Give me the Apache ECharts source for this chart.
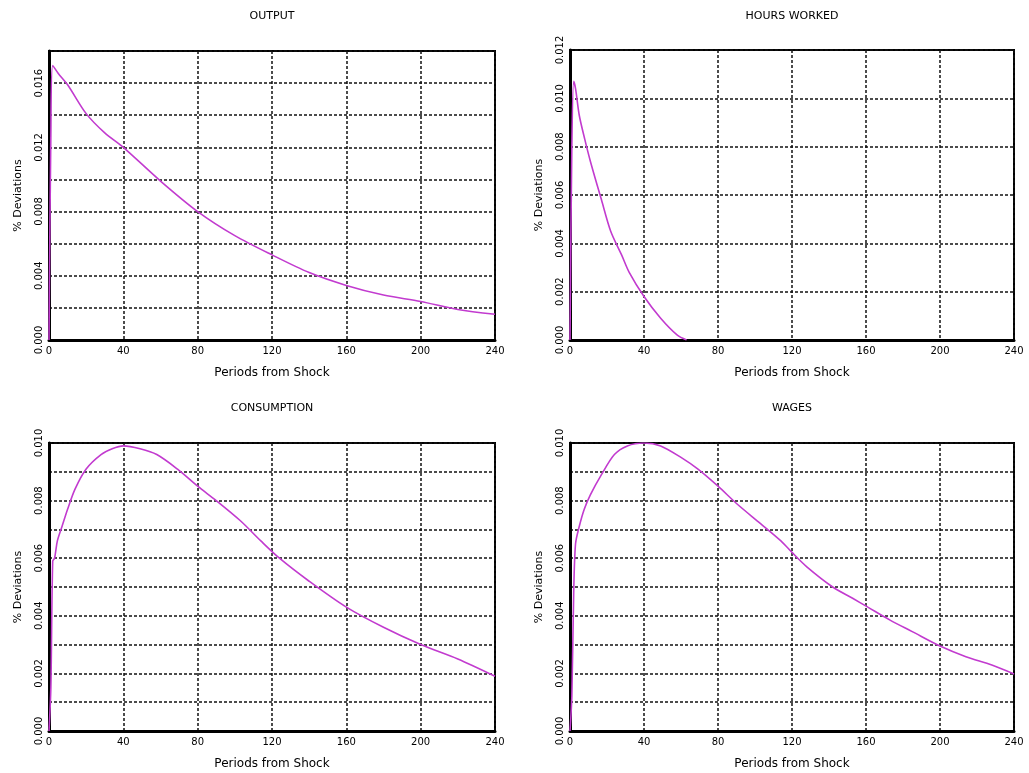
<!DOCTYPE html>
<html>
<head>
<meta charset="utf-8">
<script src="https://cdn.jsdelivr.net/npm/echarts@6/dist/echarts.min.js"></script>
<style>
  html, body { margin: 0; padding: 0; background: #fff; }
  #main { width: 1029px; height: 773px; }
</style>
</head>
<body>
<div id="main"></div>
<script>
// x ticks shared by all four panels
const periodTicks = [0, 40, 80, 120, 160, 200, 240];

// OUTPUT
const outputPeriods = [0, 1, 2, 5, 10, 20, 30, 40, 60, 80, 100, 120, 140, 160, 180, 200, 220, 240];
const outputValues = [0, 0.0128, 0.0171, 0.0166, 0.0159, 0.0141, 0.0129, 0.0120, 0.0099, 0.0080, 0.0065, 0.0053, 0.0042, 0.0034, 0.0028, 0.0024, 0.0019, 0.0016];

// HOURS WORKED
const hoursPeriods = [0, 1, 2, 3, 5, 8, 11, 17, 22, 28, 32, 40, 49, 58, 63];
const hoursValues = [0, 0.0080, 0.0107, 0.0104, 0.0093, 0.0083, 0.0074, 0.0058, 0.0045, 0.0035, 0.0028, 0.0018, 0.0009, 0.0002, 0];

// CONSUMPTION
const consPeriods = [0, 1, 2, 3, 4.5, 7, 10, 14, 20, 28, 34, 40, 49, 58, 69, 80, 90, 103, 114, 124, 140, 160, 180, 200, 220, 240];
const consValues = [0, 0.0015, 0.0059, 0.0060, 0.0066, 0.0071, 0.0077, 0.0084, 0.0091, 0.0096, 0.0098, 0.0099, 0.0098, 0.0096, 0.0091, 0.0085, 0.0080, 0.0073, 0.0066, 0.0060, 0.0052, 0.0043, 0.0036, 0.0030, 0.0025, 0.0019];

// WAGES
const wagePeriods = [0, 1, 2, 3, 5, 7.7, 11, 17, 24, 31, 40, 49, 60, 69, 80, 90, 103, 114, 120, 128, 142, 153, 161, 173, 185, 200, 214, 228, 240];
const wageValues = [0, 0.0012, 0.0048, 0.0065, 0.0071, 0.0077, 0.0082, 0.0089, 0.0096, 0.0099, 0.0100, 0.0099, 0.0095, 0.0091, 0.0085, 0.0079, 0.0072, 0.0066, 0.0062, 0.0057, 0.0050, 0.0046, 0.0043, 0.00385, 0.00345, 0.00295, 0.00258, 0.00229, 0.00198];

const titles = ['OUTPUT', 'HOURS WORKED', 'CONSUMPTION', 'WAGES'];
const yMax = [0.018, 0.012, 0.010, 0.010];
const yGridStep = [0.002, 0.002, 0.001, 0.001];
const yLabelStep = [0.004, 0.002, 0.002, 0.002];

const FONT = 'DejaVu Sans';
const LINE_COLOR = '#c23bcf';

function pairs(xs, ys) {
  return xs.map((x, i) => [x, ys[i]]);
}

const seriesData = [
  pairs(outputPeriods, outputValues),
  pairs(hoursPeriods, hoursValues),
  pairs(consPeriods, consValues),
  pairs(wagePeriods, wageValues),
];

// panel boxes in pixels
const boxes = [
  { left: 49, top: 51, width: 446, height: 289 },
  { left: 570, top: 50, width: 444, height: 290 },
  { left: 49, top: 443, width: 446, height: 288 },
  { left: 570, top: 443, width: 444, height: 288 },
];

const dashed = { color: '#111', width: 1.5, type: [3, 2] };

const option = {
  animation: false,
  backgroundColor: '#fff',
  title: titles.map((t, i) => ({
    text: t,
    left: boxes[i].left + boxes[i].width / 2,
    top: i < 2 ? 11 : 403,
    textAlign: 'center',
    padding: 0,
    textStyle: { fontFamily: FONT, fontSize: 11, fontWeight: 'normal', color: '#000' },
  })),
  grid: boxes.map(b => ({
    left: b.left, top: b.top, width: b.width, height: b.height,
    show: true, borderColor: '#000', borderWidth: 2, backgroundColor: '#fff',
  })),
  xAxis: boxes.map((b, i) => ({
    type: 'value',
    gridIndex: i,
    min: 0,
    max: 240,
    interval: 40,
    name: 'Periods from Shock',
    nameLocation: 'middle',
    nameGap: 27,
    nameTextStyle: { fontFamily: FONT, fontSize: 12, color: '#000' },
    axisLine: { show: true, lineStyle: { color: '#000', width: 3 } },
    axisTick: { show: false },
    axisLabel: {
      fontFamily: FONT, fontSize: 10, color: '#000', margin: 6,
      formatter: v => (periodTicks.includes(v) ? String(v) : ''),
    },
    splitLine: { show: true, lineStyle: dashed },
  })),
  yAxis: boxes.map((b, i) => ({
    type: 'value',
    gridIndex: i,
    min: 0,
    max: yMax[i],
    interval: yGridStep[i],
    name: '% Deviations',
    nameLocation: 'middle',
    nameRotate: 90,
    nameGap: 25,
    nameTextStyle: { fontFamily: FONT, fontSize: 11, color: '#000' },
    axisLine: { show: true, lineStyle: { color: '#000', width: 3 } },
    axisTick: { show: false },
    axisLabel: {
      rotate: 90,
      fontFamily: FONT, fontSize: 10, color: '#000', margin: 5,
      showMaxLabel: true,
      formatter: v => {
        const k = v / yLabelStep[i];
        return Math.abs(k - Math.round(k)) < 1e-6 ? v.toFixed(3) : '';
      },
    },
    splitLine: { show: true, lineStyle: dashed },
  })),
  series: seriesData.map((d, i) => ({
    type: 'line',
    xAxisIndex: i,
    yAxisIndex: i,
    data: d,
    showSymbol: false,
    smooth: 0.3,
    clip: true,
    lineStyle: { color: LINE_COLOR, width: 1.6 },
  })),
};

const chart = echarts.init(document.getElementById('main'), null, { renderer: 'canvas' });
chart.setOption(option);
</script>
</body>
</html>
